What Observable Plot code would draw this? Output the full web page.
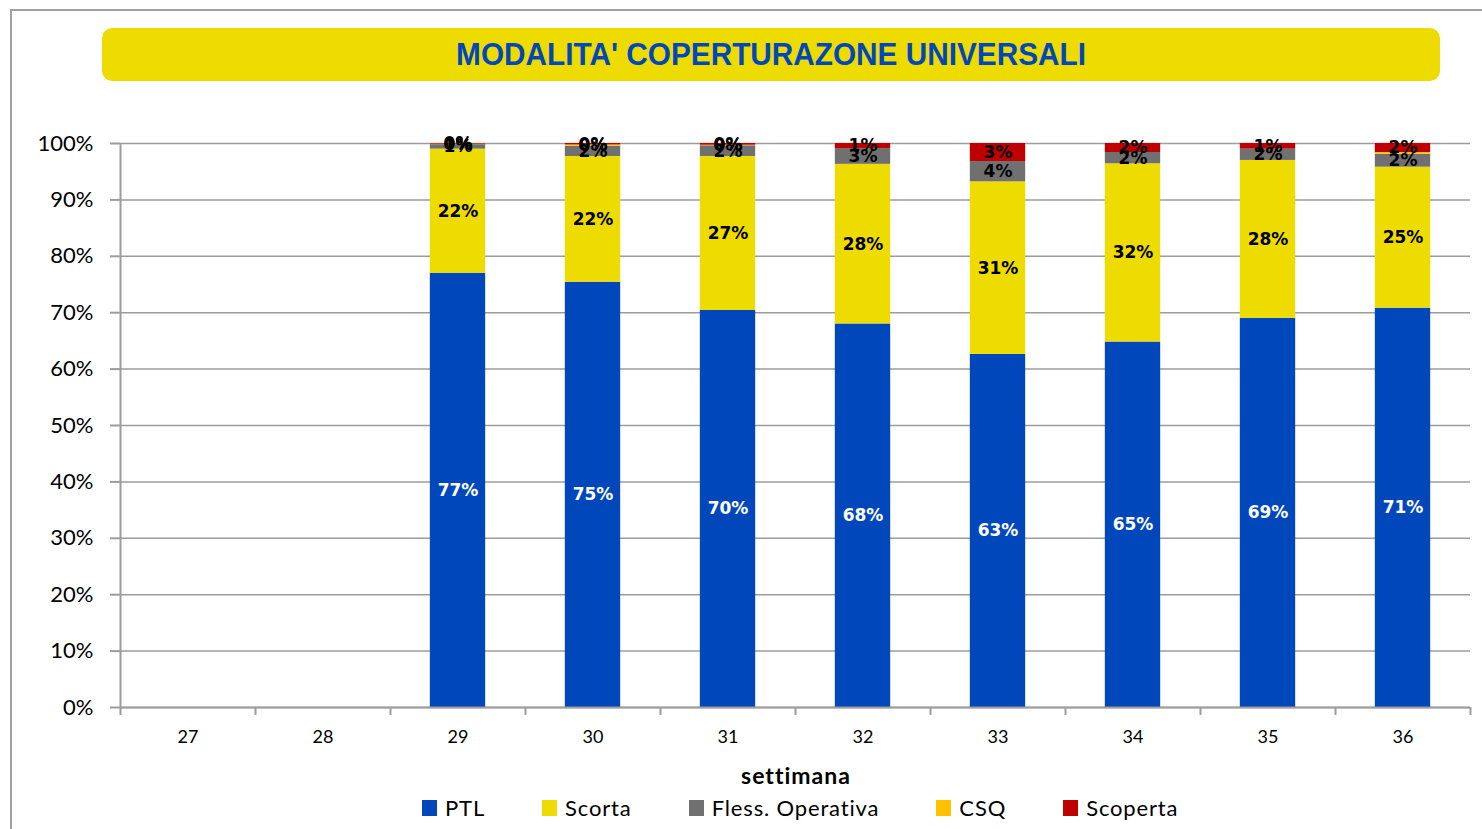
<!DOCTYPE html>
<html>
<head>
<meta charset="utf-8">
<script src="https://cdn.jsdelivr.net/npm/d3@7"></script>
<script src="https://cdn.jsdelivr.net/npm/@observablehq/plot@0.6"></script>
<style>
  html, body { margin: 0; padding: 0; background: #fff; }
  body { width: 1482px; height: 829px; overflow: hidden; position: relative; font-family: Lato, "Open Sans", sans-serif; }
  #frame { position: absolute; left: 10px; top: 9px; width: 1490px; height: 840px; border-top: 2px solid #a0a0a0; border-left: 2px solid #a0a0a0; }
  #title { position: absolute; left: 102px; top: 28px; width: 1338px; height: 53px; background: #EEDC00; border-radius: 10px;
           display: flex; align-items: center; justify-content: center; color: #0047BB;
           font: bold 31px "Liberation Sans", Arial, sans-serif; }
  #title span { display: inline-block; transform: scaleX(0.96); white-space: nowrap; }
  #chart { position: absolute; left: 0; top: 100px; }
  #xlabel { position: absolute; left: 0; top: 761px; text-align: center; font: bold 23px Lato, sans-serif; letter-spacing: 1px; color: #000; }
  #legend { position: absolute; top: 794px; left: 422px; display: flex; align-items: center; gap: 57px; font: 22px Lato, sans-serif; letter-spacing: 0.85px; color: #000; white-space: nowrap; }
  .item { display: flex; align-items: center; }
  .sw { width: 15px; height: 16px; margin-right: 8px; display: inline-block; }
</style>
</head>
<body>
<div id="frame"></div>
<div id="title"><span></span></div>
<div id="chart"></div>
<div id="xlabel"></div>
<div id="legend"></div>
<script>
// ---- data ----
const titleText = "MODALITA' COPERTURAZONE UNIVERSALI";
const xTitle = "settimana";
const weeks = ["27", "28", "29", "30", "31", "32", "33", "34", "35", "36"];
const seriesNames = ["PTL", "Scorta", "Fless. Operativa", "CSQ", "Scoperta"];
const seriesColors = ["#0047BB", "#EEDC00", "#707070", "#FFC000", "#C00000"];
// percentages per week
const ptl      = [0, 0, 77.0, 75.4, 70.4, 68.0, 62.6, 64.8, 69.0, 70.8];
const scorta   = [0, 0, 22.0, 22.3, 27.3, 28.3, 30.6, 31.6, 28.0, 25.0];
const flessOp  = [0, 0, 0.8, 1.8, 1.9, 2.8, 3.6, 2.0, 2.0, 2.3];
const csq      = [0, 0, 0.1, 0.25, 0.1, 0, 0, 0, 0, 0.3];
const scoperta = [0, 0, 0.1, 0.25, 0.3, 0.9, 3.2, 1.6, 1.0, 1.6];
const yTicks = [0, 0.1, 0.2, 0.3, 0.4, 0.5, 0.6, 0.7, 0.8, 0.9, 1.0];
// data labels not shown in the reference (hidden behind others)
const hiddenLabels = ["36|CSQ"];

// ---- build table ----
const seriesValues = [ptl, scorta, flessOp, csq, scoperta];
const rows = [];
seriesNames.forEach((s, i) => weeks.forEach((w, j) => rows.push({week: w, series: s, value: seriesValues[i][j] / 100})));

document.querySelector("#title span").textContent = titleText;
document.getElementById("xlabel").textContent = xTitle;
document.getElementById("xlabel").style.width = (2 * 796) + "px";

const W = 1482, H = 700, mL = 120, mR = 12, mT = 43, mB = 93;
const step = (W - mL - mR) / weeks.length;
const axisGray = "#9c9c9c";

const chart = Plot.plot({
  width: W, height: H,
  marginLeft: mL, marginRight: mR, marginTop: mT, marginBottom: mB,
  style: { fontFamily: "Lato, sans-serif", background: "transparent", color: "#000", overflow: "visible" },
  x: { domain: weeks, paddingInner: 0.59, paddingOuter: 0.295, round: false, axis: null },
  y: { domain: [0, 1], axis: null },
  color: { domain: seriesNames, range: seriesColors },
  marks: [
    Plot.ruleY(yTicks, { stroke: axisGray, strokeWidth: 1.5 }),
    Plot.barY(rows, Plot.stackY({ x: "week", y: "value", fill: "series" })),
    Plot.ruleY([0], { stroke: axisGray, strokeWidth: 2 }),
    Plot.ruleX([weeks[0]], { dx: -step / 2, y1: -0.014, y2: 1, stroke: axisGray, strokeWidth: 2 }),
    Plot.ruleX(weeks, { dx: step / 2, y1: -0.014, y2: 0, stroke: axisGray, strokeWidth: 2 }),
    Plot.axisY({ ticks: yTicks, tickFormat: d3.format(".0%"), tickSize: 10, tickPadding: 17, fontSize: 22, stroke: axisGray, strokeWidth: 2, label: null }),
    Plot.axisX({ tickSize: 0, tickPadding: 23, fontSize: 18, label: null }),
    Plot.text(rows, Plot.stackY({
      x: "week", y: "value",
      text: d => (d.value > 0 && !hiddenLabels.includes(d.week + "|" + d.series)) ? Math.round(d.value * 100) + "%" : null,
      fill: d => d.series === "PTL" ? "white" : "black",
      fontSize: 17, fontWeight: "bold", fontFamily: "DejaVu Sans, Verdana, sans-serif"
    }))
  ]
});
document.getElementById("chart").appendChild(chart);

const legend = document.getElementById("legend");
seriesNames.forEach((s, i) => {
  const it = document.createElement("div");
  it.className = "item";
  const sw = document.createElement("span");
  sw.className = "sw";
  sw.style.background = seriesColors[i];
  it.appendChild(sw);
  it.appendChild(document.createTextNode(s));
  legend.appendChild(it);
});
</script>
</body>
</html>
